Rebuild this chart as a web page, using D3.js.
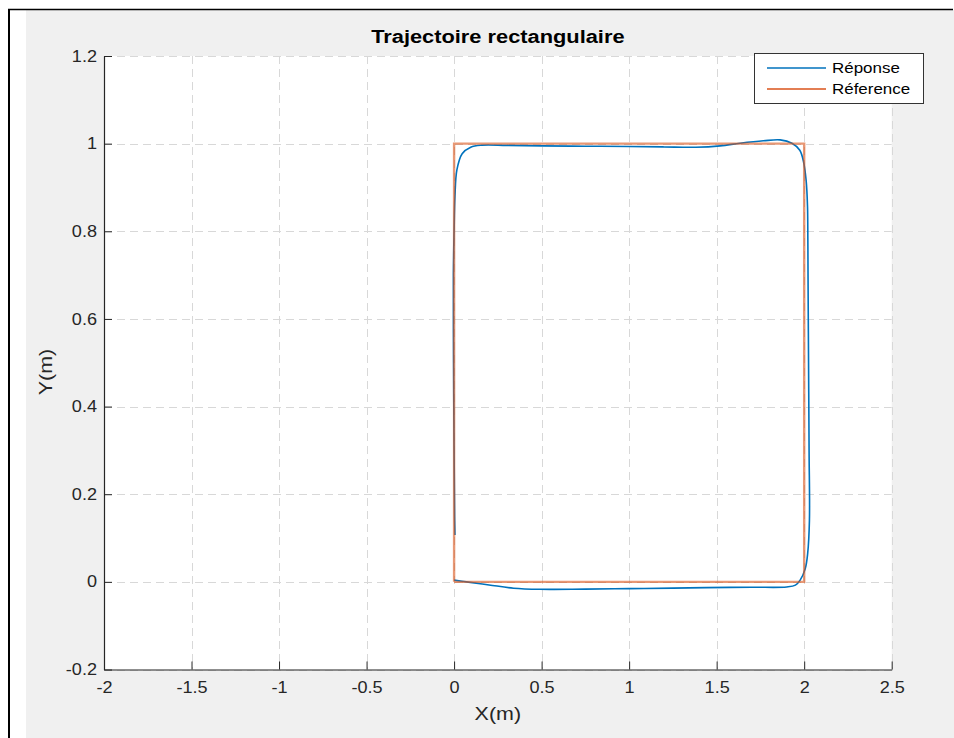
<!DOCTYPE html>
<html>
<head>
<meta charset="utf-8">
<script src="https://cdn.jsdelivr.net/npm/d3@7"></script>
<style>
  html, body { margin: 0; padding: 0; background: #ffffff; }
  svg { display: block; font-family: "Liberation Sans", Arial, Helvetica, sans-serif; }
</style>
</head>
<body>
<svg id="chart" width="954" height="738"></svg>
<script>
// ---- Data ----
const titleText = "Trajectoire rectangulaire";
const xLabel = "X(m)";
const yLabel = "Y(m)";
const seriesNames = ["Réponse", "Réference"];

const xTickValues = [-2, -1.5, -1, -0.5, 0, 0.5, 1, 1.5, 2, 2.5];
const xTickLabels = ["-2", "-1.5", "-1", "-0.5", "0", "0.5", "1", "1.5", "2", "2.5"];
const yTickValues = [-0.2, 0, 0.2, 0.4, 0.6, 0.8, 1, 1.2];
const yTickLabels = ["-0.2", "0", "0.2", "0.4", "0.6", "0.8", "1", "1.2"];

// Reference rectangle
const refX = [0, 2, 2, 0, 0];
const refY = [0, 0, 1, 1, 0];

// Response trajectory
const repX = [0.000, 0.07, 0.20, 0.34, 0.49, 0.75, 1.00, 1.25, 1.44, 1.70, 1.90, 1.95, 1.977, 2.006, 2.020, 2.030,
              2.028, 2.025, 2.022, 2.021, 2.019, 2.011, 1.996, 1.975, 1.93, 1.863, 1.767, 1.634, 1.52, 1.38, 1.20,
              1.00, 0.75, 0.50, 0.30, 0.16, 0.095, 0.046, 0.016, 0.005, 0.000, -0.004, -0.003, 0.000, 0.003, 0.005];
const repY = [0.004, 0.000, -0.007, -0.0145, -0.017, -0.0165, -0.0155, -0.0143, -0.0132, -0.0122, -0.0116, -0.0075, 0.004, 0.030, 0.065, 0.140,
              0.300, 0.500, 0.700, 0.780, 0.857, 0.917, 0.959, 0.985, 1.001, 1.0085, 1.0065, 1.001, 0.995, 0.9918, 0.9925,
              0.9935, 0.9942, 0.9948, 0.996, 0.9965, 0.992, 0.977, 0.940, 0.880, 0.800, 0.700, 0.500, 0.300, 0.150, 0.107];

// ---- Layout ----
const W = 954, H = 738;
const plot = { left: 104, top: 56, right: 891.7, bottom: 669.5 };
const SX = 1.13; // horizontal text stretch
const textColor = "#262626";
const colors = ["#0072BD", "#D95319"];

const svg = d3.select("#chart");

// Figure background and frame
svg.append("rect").attr("x", 0).attr("y", 0).attr("width", W).attr("height", H).attr("fill", "#ffffff");
svg.append("rect").attr("x", 26).attr("y", 10).attr("width", W - 26).attr("height", H - 10).attr("fill", "#f0f0f0");
svg.append("line").attr("x1", 8).attr("x2", 953).attr("y1", 9.5).attr("y2", 9.5).attr("stroke", "#000").attr("stroke-width", 1.6);
svg.append("line").attr("x1", 9).attr("x2", 9).attr("y1", 9).attr("y2", H).attr("stroke", "#000").attr("stroke-width", 2);

// Scales
const x = d3.scaleLinear().domain([-2, 2.5]).range([plot.left, plot.right]);
const y = d3.scaleLinear().domain([-0.2, 1.2]).range([plot.bottom, plot.top]);

// Plot area
svg.append("rect").attr("x", plot.left).attr("y", plot.top)
  .attr("width", plot.right - plot.left).attr("height", plot.bottom - plot.top).attr("fill", "#ffffff");

// Grid
const grid = svg.append("g").attr("stroke", "#d8d8d8").attr("stroke-width", 1).attr("stroke-dasharray", "8,5");
grid.selectAll(".gx").data(xTickValues).join("line")
  .attr("x1", d => Math.round(x(d)) + 0.5).attr("x2", d => Math.round(x(d)) + 0.5)
  .attr("y1", plot.top).attr("y2", plot.bottom);
grid.selectAll(".gy").data(yTickValues).join("line")
  .attr("y1", d => Math.round(y(d)) + 0.5).attr("y2", d => Math.round(y(d)) + 0.5)
  .attr("x1", plot.left).attr("x2", plot.right);

// Lines
const repData = repX.map((d, i) => [d, repY[i]]);
const refData = refX.map((d, i) => [d, refY[i]]);
const lineGen = d3.line().x(d => x(d[0])).y(d => y(d[1]));

svg.append("path").datum(repData)
  .attr("d", lineGen.curve(d3.curveCatmullRom.alpha(0.5)))
  .attr("fill", "none").attr("stroke", colors[0]).attr("stroke-width", 1.6);
svg.append("path").datum(refData)
  .attr("d", d3.line().x(d => x(d[0])).y(d => y(d[1])))
  .attr("fill", "none").attr("stroke", colors[1]).attr("stroke-width", 2.4).attr("stroke-opacity", 0.6);

// Axes
const xAxis = d3.axisBottom(x).tickValues(xTickValues).tickFormat((d, i) => xTickLabels[i])
  .tickSizeInner(-8).tickSizeOuter(0).tickPadding(12);
const yAxis = d3.axisLeft(y).tickValues(yTickValues).tickFormat((d, i) => yTickLabels[i])
  .tickSizeInner(-8).tickSizeOuter(0).tickPadding(7);

const gx = svg.append("g").attr("transform", `translate(0,${plot.bottom})`).call(xAxis);
const gy = svg.append("g").attr("transform", `translate(${plot.left},0)`).call(yAxis);
[gx, gy].forEach(g => {
  g.select(".domain").attr("stroke", textColor).attr("stroke-width", 1.2);
  g.selectAll(".tick line").attr("stroke", textColor).attr("stroke-width", 1);
  g.selectAll(".tick text").attr("fill", textColor).attr("font-size", 16)
    .attr("font-family", "'Liberation Sans', Arial, sans-serif");
});
gx.selectAll(".tick text").attr("transform", `scale(${SX},1)`);
gy.selectAll(".tick text").each(function () {
  const t = d3.select(this);
  const xx = +t.attr("x");
  t.attr("x", xx / SX).attr("transform", `scale(${SX},1)`);
});

// Title
svg.append("text").attr("transform", `translate(${(plot.left + plot.right) / 2},43) scale(1.18,1)`)
  .attr("text-anchor", "middle").attr("font-size", 18.5).attr("font-weight", "bold").attr("fill", "#000")
  .text(titleText);

// Axis labels
svg.append("text").attr("transform", `translate(${(plot.left + plot.right) / 2},720) scale(${SX},1)`)
  .attr("text-anchor", "middle").attr("font-size", 19).attr("fill", textColor).text(xLabel);
svg.append("text").attr("transform", `translate(52,372) rotate(-90) scale(${SX},1)`)
  .attr("text-anchor", "middle").attr("font-size", 19).attr("fill", textColor).text(yLabel);

// Legend
const leg = svg.append("g");
leg.append("rect").attr("x", 754.5).attr("y", 53.5).attr("width", 169).attr("height", 50)
  .attr("fill", "#ffffff").attr("stroke", "#333333").attr("stroke-width", 1);
const legY = [68, 89];
seriesNames.forEach((name, i) => {
  leg.append("line").attr("x1", 767).attr("x2", 826).attr("y1", legY[i]).attr("y2", legY[i])
    .attr("stroke", colors[i]).attr("stroke-width", i === 0 ? 1.6 : 2.2).attr("stroke-opacity", i === 0 ? 1 : 0.75);
  leg.append("text").attr("transform", `translate(832,${legY[i] + 5}) scale(${SX},1)`)
    .attr("font-size", 15).attr("fill", "#000").text(name);
});
</script>
</body>
</html>
